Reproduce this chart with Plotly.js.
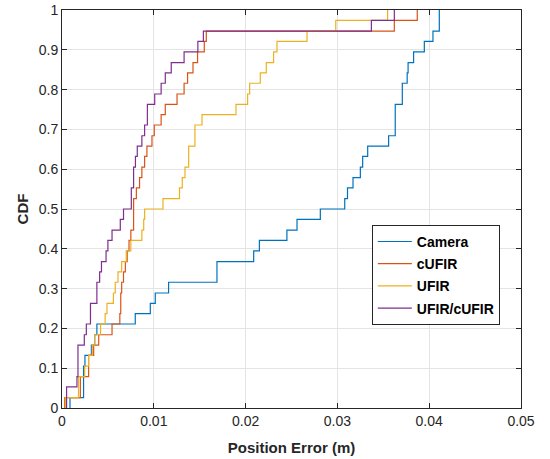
<!DOCTYPE html>
<html>
<head>
<meta charset="utf-8">
<script src="https://cdn.plot.ly/plotly-3.0.1.min.js"></script>
<style>html,body{margin:0;padding:0;background:#fff;}#chart{width:550px;height:459px;}</style>
</head>
<body>
<div id="chart"></div>
<script>
// Step positions (position error, m) and CDF level reached at each step
const cameraX = [0.00087,0.00235,0.0025,0.0032,0.00356,0.0038,0.00798,0.00962,0.01016,0.01161,0.01688,0.02088,0.0215,0.0245,0.0256,0.02814,0.0308,0.0311,0.0317,0.0325,0.03275,0.0333,0.03558,0.0363,0.03707,0.0376,0.0377,0.0383,0.03947,0.04041,0.0411];
const cameraY = [0.026,0.105,0.132,0.158,0.184,0.211,0.237,0.263,0.289,0.316,0.368,0.395,0.421,0.447,0.474,0.5,0.526,0.553,0.579,0.605,0.632,0.658,0.684,0.763,0.816,0.842,0.868,0.895,0.921,0.947,1];

const cufirX = [0.0003,0.0020,0.0029,0.00345,0.0040,0.00545,0.0063,0.0064,0.0065,0.0067,0.0069,0.0071,0.0073,0.0075,0.0078,0.0081,0.00845,0.0087,0.0090,0.00925,0.0098,0.01005,0.0108,0.01125,0.01253,0.0133,0.01368,0.01427,0.01477,0.0155,0.01572,0.0362,0.0387];
const cufirY = [0.026,0.079,0.132,0.158,0.184,0.211,0.237,0.289,0.316,0.342,0.368,0.395,0.421,0.447,0.526,0.553,0.579,0.605,0.632,0.658,0.684,0.711,0.737,0.763,0.789,0.816,0.842,0.868,0.895,0.921,0.947,0.974,1];

const ufirX = [0.0004,0.0018,0.00247,0.0029,0.0033,0.00356,0.0042,0.0047,0.0049,0.0056,0.0058,0.0061,0.0065,0.0070,0.0075,0.0087,0.0089,0.0090,0.0110,0.0128,0.0131,0.0134,0.0138,0.01448,0.01525,0.01895,0.02022,0.02044,0.0216,0.02225,0.02305,0.02342,0.02669,0.02982,0.03547];
const ufirY = [0.026,0.079,0.105,0.132,0.158,0.184,0.211,0.237,0.263,0.289,0.316,0.342,0.368,0.395,0.421,0.447,0.474,0.5,0.526,0.553,0.579,0.605,0.658,0.711,0.737,0.763,0.789,0.816,0.842,0.868,0.895,0.921,0.947,0.974,1];

const mixX = [0.0005,0.00163,0.00174,0.00243,0.00265,0.0031,0.0038,0.0041,0.0043,0.0048,0.0050,0.00545,0.00635,0.0067,0.00755,0.0078,0.0080,0.0082,0.0087,0.0090,0.0093,0.0101,0.0108,0.01125,0.0119,0.0133,0.0148,0.0154,0.0337,0.0362];
const mixY = [0.053,0.079,0.158,0.184,0.211,0.263,0.316,0.342,0.368,0.395,0.421,0.447,0.474,0.5,0.553,0.605,0.632,0.658,0.684,0.711,0.763,0.789,0.816,0.842,0.868,0.895,0.921,0.947,0.974,1];

const seriesNames = ['Camera','cUFIR','UFIR','UFIR/cUFIR'];
const xTickVals = [0,0.01,0.02,0.03,0.04,0.05];
const xTickText = ['0','0.01','0.02','0.03','0.04','0.05'];
const yTickVals = [0,0.1,0.2,0.3,0.4,0.5,0.6,0.7,0.8,0.9,1];
const yTickText = ['0','0.1','0.2','0.3','0.4','0.5','0.6','0.7','0.8','0.9','1'];

const colors = ['#0072BD','#D95319','#EDB120','#7E2F8E'];
const sets = [[cameraX,cameraY],[cufirX,cufirY],[ufirX,ufirY],[mixX,mixY]];

const traces = sets.map((s,i)=>({
  type:'scatter', mode:'lines',
  x:[s[0][0]].concat(s[0]),
  y:[0].concat(s[1]),
  line:{shape:'hv', color:colors[i], width:1.2},
  name:seriesNames[i],
  legendgroup:'g'+i
}));

const FONT = 'Liberation Sans, Arial, Helvetica, sans-serif';
const axisCommon = {
  showline:true, linecolor:'#262626', linewidth:1, mirror:'ticks',
  ticks:'inside', ticklen:5, tickcolor:'#262626', tickwidth:1,
  showgrid:true, gridcolor:'#e4e4e4', gridwidth:1, zeroline:false,
  tickfont:{family:FONT, size:14, color:'#262626'}
};

const layout = {
  width:550, height:459,
  margin:{l:62, r:29, t:10, b:51},
  paper_bgcolor:'#fff', plot_bgcolor:'#fff',
  showlegend:true,
  xaxis:Object.assign({}, axisCommon, {
    range:[0,0.05], tickmode:'array', tickvals:xTickVals, ticktext:xTickText,
    title:{text:'Position Error (m)', font:{family:FONT, size:15, color:'#262626', weight:'bold'}, standoff:14}
  }),
  yaxis:Object.assign({}, axisCommon, {
    range:[0,1], tickmode:'array', tickvals:yTickVals, ticktext:yTickText,
    title:{text:'CDF', font:{family:FONT, size:15, color:'#262626', weight:'bold'}, standoff:6}
  }),
  legend:{
    x:0.675, y:0.46, xanchor:'left', yanchor:'top',
    bgcolor:'#fff', bordercolor:'#262626', borderwidth:1,
    font:{family:FONT, size:14, color:'#000', weight:'bold'},
    tracegroupgap:1, itemwidth:34
  }
};

Plotly.newPlot('chart', traces, layout, {displayModeBar:false, staticPlot:true});
</script>
</body>
</html>
